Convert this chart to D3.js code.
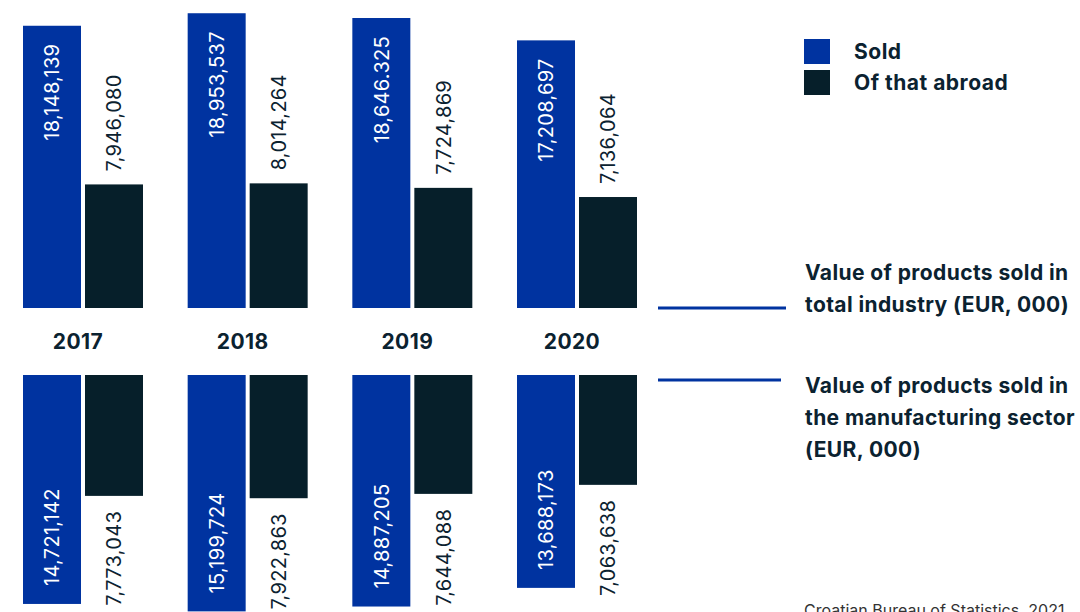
<!DOCTYPE html>
<html><head><meta charset="utf-8">
<script src="https://cdn.jsdelivr.net/npm/d3@7"></script>
<style>
html,body{margin:0;padding:0;background:#fff;}
svg{display:block;font-family:Inter, "Noto Sans", sans-serif;}
</style></head>
<body>
<svg id="chart" width="1080" height="612"></svg>
<script>
const years = ["2017","2018","2019","2020"];
const series = ["Sold","Of that abroad"];
const totalSold = [18148139, 18953537, 18646325, 17208697];
const totalSoldLabels = ["18,148,139","18,953,537","18,646.325","17,208,697"];
const totalAbroad = [7946080, 8014264, 7724869, 7136064];
const mfgSold = [14721142, 15199724, 14887205, 13688173];
const mfgAbroad = [7773043, 7922863, 7644088, 7063638];
const panelTitles = [
  ["Value of products sold in","total industry (EUR, 000)"],
  ["Value of products sold in","the manufacturing sector","(EUR, 000)"]
];
const source = "Croatian Bureau of Statistics, 2021";

const BLUE = "#0033a0", DARK = "#061f2a", TXT = "#0b2230";
const svg = d3.select("#chart");
const fmt = d3.format(",");

const x0 = d3.scaleBand().domain(years).range([23, 637]).paddingInner(0.2713).paddingOuter(0);
const x1 = d3.scaleBand().domain(series).range([0, x0.bandwidth()]).paddingInner(0.0645);
const color = d3.scaleOrdinal().domain(series).range([BLUE, DARK]);

const perPx = 64300;
const yTop = d3.scaleLinear().domain([0, 20000000]).range([308, 308 - 20000000/perPx]);
const yBot = d3.scaleLinear().domain([0, 20000000]).range([375, 375 + 20000000/perPx]);

const topData = years.map((y,i)=>({year:y, vals:[
  {s:series[0], v:totalSold[i], label:totalSoldLabels[i]},
  {s:series[1], v:totalAbroad[i], label:fmt(totalAbroad[i])}]}));
const botData = years.map((y,i)=>({year:y, vals:[
  {s:series[0], v:mfgSold[i], label:fmt(mfgSold[i])},
  {s:series[1], v:mfgAbroad[i], label:fmt(mfgAbroad[i])}]}));

const LBL = 20, LS = 0.3;

// top panel
const gTop = svg.append("g");
const tg = gTop.selectAll("g").data(topData).join("g").attr("transform", d=>`translate(${x0(d.year)},0)`);
tg.selectAll("rect").data(d=>d.vals).join("rect")
  .attr("x", d=>x1(d.s)).attr("width", x1.bandwidth())
  .attr("y", d=>yTop(d.v)).attr("height", d=>yTop(0)-yTop(d.v))
  .attr("fill", d=>color(d.s));
tg.selectAll("text").data(d=>d.vals).join("text")
  .attr("transform", d=>{
    const cx = x1(d.s)+x1.bandwidth()/2;
    const yy = d.s===series[0] ? yTop(d.v)+18 : yTop(d.v)-13;
    return `translate(${cx},${yy}) rotate(-90)`;
  })
  .attr("dy","0.36em")
  .attr("text-anchor", d=>d.s===series[0] ? "end" : "start")
  .attr("fill", d=>d.s===series[0] ? "#ffffff" : TXT)
  .attr("font-size", LBL).attr("font-weight", 400).attr("letter-spacing", LS)
  .text(d=>d.label);

// bottom panel
const gBot = svg.append("g");
const bg = gBot.selectAll("g").data(botData).join("g").attr("transform", d=>`translate(${x0(d.year)},0)`);
bg.selectAll("rect").data(d=>d.vals).join("rect")
  .attr("x", d=>x1(d.s)).attr("width", x1.bandwidth())
  .attr("y", yBot(0)).attr("height", d=>yBot(d.v)-yBot(0))
  .attr("fill", d=>color(d.s));
bg.selectAll("text").data(d=>d.vals).join("text")
  .attr("transform", d=>{
    const cx = x1(d.s)+x1.bandwidth()/2;
    const yy = d.s===series[0] ? yBot(d.v)-18 : yBot(d.v)+15;
    return `translate(${cx},${yy}) rotate(-90)`;
  })
  .attr("dy","0.36em")
  .attr("text-anchor", d=>d.s===series[0] ? "start" : "end")
  .attr("fill", d=>d.s===series[0] ? "#ffffff" : TXT)
  .attr("font-size", LBL).attr("font-weight", 400).attr("letter-spacing", LS)
  .text(d=>d.label);

// year labels
svg.append("g").selectAll("text").data(years).join("text")
  .attr("x", d=>x0(d)+x0.bandwidth()/2 - 5).attr("y", 349)
  .attr("text-anchor","middle").attr("font-size",21).attr("font-weight",700)
  .attr("letter-spacing",0.4).attr("fill", TXT).text(d=>d);

// legend
const leg = svg.append("g").attr("transform","translate(804,39)");
leg.selectAll("rect").data(series).join("rect")
  .attr("x",0).attr("y",(d,i)=>i*31).attr("width",26).attr("height",25)
  .attr("fill", d=>color(d));
leg.selectAll("text").data(series).join("text")
  .attr("x",50).attr("y",(d,i)=>i*31+20)
  .attr("font-size",21).attr("font-weight",700).attr("letter-spacing",0.5)
  .attr("fill",TXT).text(d=>d);

// panel lines and titles
const lines = [{y:308, x2:786}, {y:380, x2:781}];
svg.append("g").selectAll("line").data(lines).join("line")
  .attr("x1",658).attr("x2",d=>d.x2).attr("y1",d=>d.y).attr("y2",d=>d.y)
  .attr("stroke",BLUE).attr("stroke-width",3);
const titleBase = [280, 393];
panelTitles.forEach((lns,k)=>{
  svg.append("text").attr("x",805).attr("y",titleBase[k])
    .attr("font-size",21).attr("font-weight",700).attr("letter-spacing",0.4).attr("fill",TXT)
    .selectAll("tspan").data(lns).join("tspan")
    .attr("x",805).attr("dy",(d,i)=>i===0?0:32).text(d=>d);
});

svg.append("text").attr("x",804).attr("y",616).attr("font-size",16)
  .attr("fill","#333").text(source);
</script>
</body></html>
